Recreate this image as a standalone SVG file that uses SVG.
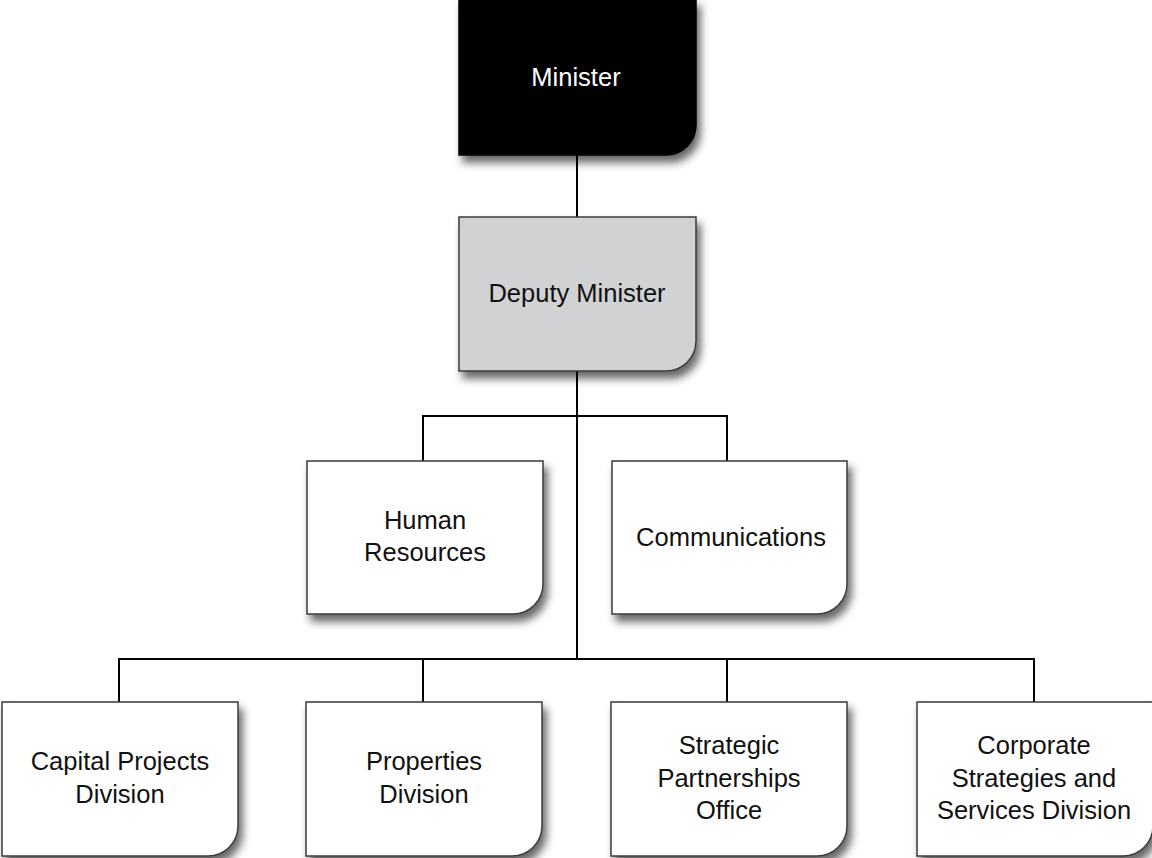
<svg xmlns="http://www.w3.org/2000/svg" width="1152" height="858" viewBox="0 0 1152 858">
<defs>
<filter id="sh" x="-10%" y="-10%" width="130%" height="135%">
<feDropShadow dx="4" dy="7" stdDeviation="4" flood-color="#000" flood-opacity="0.6"/>
</filter>
</defs>
<style>
.box{fill:#fff;stroke:#3a3a3a;stroke-width:1.5;filter:url(#sh)}
.dark{fill:#000;stroke:#000}
.grey{fill:#d1d2d4}
.conn{fill:none;stroke:#000;stroke-width:2}
text{font-family:"Liberation Sans",Arial,Helvetica,sans-serif;font-size:25.5px;text-anchor:middle;fill:#111}
.wt{fill:#fff}
</style>
<rect width="1152" height="858" fill="#fff"/>
<g id="connectors" class="conn">
<path d="M577 155V217"/>
<path d="M577 371V659"/>
<path d="M423 461V416H727V461"/>
<path d="M119 702V659H1034V702"/>
<path d="M423 659V702"/>
<path d="M727 659V702"/>
</g>
<g id="minister">
<path class="box dark" d="M459 -1H696V125A30 30 0 0 1 666 155H459Z"/>
<text class="wt" x="576" y="86">Minister</text>
</g>
<g id="deputy-minister">
<path class="box grey" d="M459 217H696V341A30 30 0 0 1 666 371H459Z"/>
<text x="577" y="302">Deputy Minister</text>
</g>
<g id="human-resources">
<path class="box" d="M307 461H543V584A30 30 0 0 1 513 614H307Z"/>
<text x="425" y="529">Human</text>
<text x="425" y="561">Resources</text>
</g>
<g id="communications">
<path class="box" d="M612 461H847V584A30 30 0 0 1 817 614H612Z"/>
<text x="731" y="546">Communications</text>
</g>
<g id="capital-projects">
<path class="box" d="M2 702H238V826A30 30 0 0 1 208 856H2Z"/>
<text x="120" y="770">Capital Projects</text>
<text x="120" y="803">Division</text>
</g>
<g id="properties">
<path class="box" d="M306 702H542V826A30 30 0 0 1 512 856H306Z"/>
<text x="424" y="770">Properties</text>
<text x="424" y="803">Division</text>
</g>
<g id="strategic-partnerships">
<path class="box" d="M611 702H847V826A30 30 0 0 1 817 856H611Z"/>
<text x="729" y="754">Strategic</text>
<text x="729" y="787">Partnerships</text>
<text x="729" y="819">Office</text>
</g>
<g id="corporate-strategies">
<path class="box" d="M917 702H1153V826A30 30 0 0 1 1123 856H917Z"/>
<text x="1034" y="754">Corporate</text>
<text x="1034" y="787">Strategies and</text>
<text x="1034" y="819">Services Division</text>
</g>
</svg>
